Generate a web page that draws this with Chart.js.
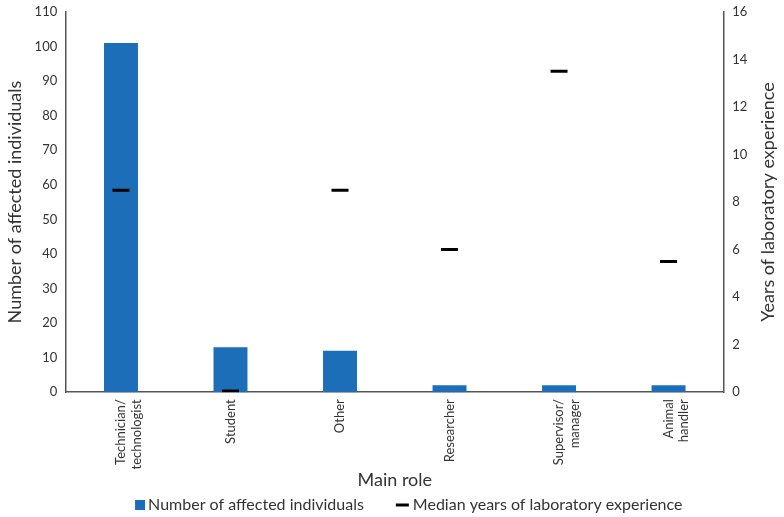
<!DOCTYPE html>
<html>
<head>
<meta charset="utf-8">
<script src="https://cdn.jsdelivr.net/npm/chart.js@4/dist/chart.umd.min.js"></script>
<style>
html,body{margin:0;padding:0;background:#fff;}
#wrap{width:784px;height:517px;}
</style>
</head>
<body>
<div id="wrap"><canvas id="c"></canvas></div>
<script>
const categories = [["Technician/","technologist"],"Student","Other","Researcher",["Supervisor/","manager"],["Animal","handler"]];
const affectedCounts = [101, 13, 12, 2, 2, 2];
const medianYears = [8.5, 0.05, 8.5, 6, 13.5, 5.5];
const leftTicks = [0,10,20,30,40,50,60,70,80,90,100,110];
const rightTicks = [0,2,4,6,8,10,12,14,16];

const FONT = "Lato, 'Open Sans', sans-serif";
const TXT = '#333';
const AXIS = '#555';
const BAR = '#1c6eb8';

const customPlugin = {
  id: 'custom',
  afterDraw(chart) {
    const ctx = chart.ctx;
    const ca = chart.chartArea;
    // right axis title, reading bottom-to-top
    const y1 = chart.scales.y1;
    ctx.save();
    ctx.fillStyle = TXT;
    ctx.font = "18px " + FONT;
    ctx.textAlign = 'center';
    ctx.textBaseline = 'middle';
    ctx.translate(y1.right - 11, (ca.top + ca.bottom) / 2);
    ctx.rotate(-Math.PI / 2);
    ctx.fillText(y1.options.title.text, 0, 0);
    ctx.restore();

    // legend
    const ds = chart.data.datasets;
    ctx.save();
    ctx.font = "16px " + FONT;
    ctx.fillStyle = TXT;
    ctx.textBaseline = 'middle';
    ctx.textAlign = 'left';
    const w1 = ctx.measureText(ds[0].label).width;
    const w2 = ctx.measureText(ds[1].label).width;
    const total = 10 + 3 + w1 + 32 + 13 + 4 + w2;
    let x = (ca.left + ca.right) / 2 + 14 - total / 2;
    const yc = 505;
    ctx.fillStyle = BAR;
    ctx.fillRect(x, yc - 5, 10, 10);
    x += 13;
    ctx.fillStyle = TXT;
    ctx.fillText(ds[0].label, x, yc);
    x += w1 + 32;
    ctx.strokeStyle = '#000';
    ctx.lineWidth = 3;
    ctx.beginPath();
    ctx.moveTo(x, yc);
    ctx.lineTo(x + 13, yc);
    ctx.stroke();
    x += 17;
    ctx.fillText(ds[1].label, x, yc);
    ctx.restore();
  }
};

new Chart(document.getElementById('c'), {
  data: {
    labels: categories,
    datasets: [
      {
        type: 'bar',
        label: 'Number of affected individuals',
        data: affectedCounts,
        backgroundColor: BAR,
        borderWidth: 0,
        yAxisID: 'y',
        categoryPercentage: 1,
        barPercentage: 0.31,
        order: 2
      },
      {
        type: 'line',
        label: 'Median years of laboratory experience',
        data: medianYears,
        showLine: false,
        yAxisID: 'y1',
        pointStyle: 'line',
        pointRadius: 8.5,
        pointHoverRadius: 8.5,
        pointBorderWidth: 3,
        borderColor: '#000',
        backgroundColor: '#000',
        borderWidth: 3,
        order: 1
      }
    ]
  },
  plugins: [customPlugin],
  options: {
    responsive: true,
    maintainAspectRatio: false,
    animation: false,
    layout: { padding: { left: 4, right: 5, top: 4, bottom: 26 } },
    plugins: {
      legend: { display: false },
      tooltip: { enabled: false }
    },
    scales: {
      x: {
        grid: { display: false, drawTicks: false },
        border: { color: AXIS, width: 1.5 },
        ticks: {
          minRotation: 90, maxRotation: 90,
          color: TXT,
          font: { family: FONT, size: 13 },
          padding: 7
        },
        title: { display: true, text: 'Main role', color: TXT, font: { family: FONT, size: 18 }, padding: { top: -7, bottom: 0 } }
      },
      y: {
        position: 'left',
        min: 0, max: 110,
        afterBuildTicks: (ax) => { ax.ticks = leftTicks.map(v => ({ value: v })); },
        grid: { display: false, drawTicks: true, drawOnChartArea: false, tickLength: 5, color: AXIS },
        border: { color: AXIS, width: 1.5 },
        ticks: { color: TXT, font: { family: FONT, size: 13 }, padding: 4 },
        title: { display: true, text: 'Number of affected individuals', color: TXT, font: { family: FONT, size: 18 }, padding: { top: 0, bottom: 5 } }
      },
      y1: {
        position: 'right',
        min: 0, max: 16,
        afterBuildTicks: (ax) => { ax.ticks = rightTicks.map(v => ({ value: v })); },
        grid: { display: false, drawTicks: true, drawOnChartArea: false, tickLength: 5, color: AXIS },
        border: { color: AXIS, width: 1.5 },
        ticks: { color: TXT, font: { family: FONT, size: 13 }, padding: 4 },
        title: { display: true, text: 'Years of laboratory experience', color: 'rgba(0,0,0,0)', font: { family: FONT, size: 18 }, padding: { top: 6, bottom: 0 } }
      }
    }
  }
});
</script>
</body>
</html>
